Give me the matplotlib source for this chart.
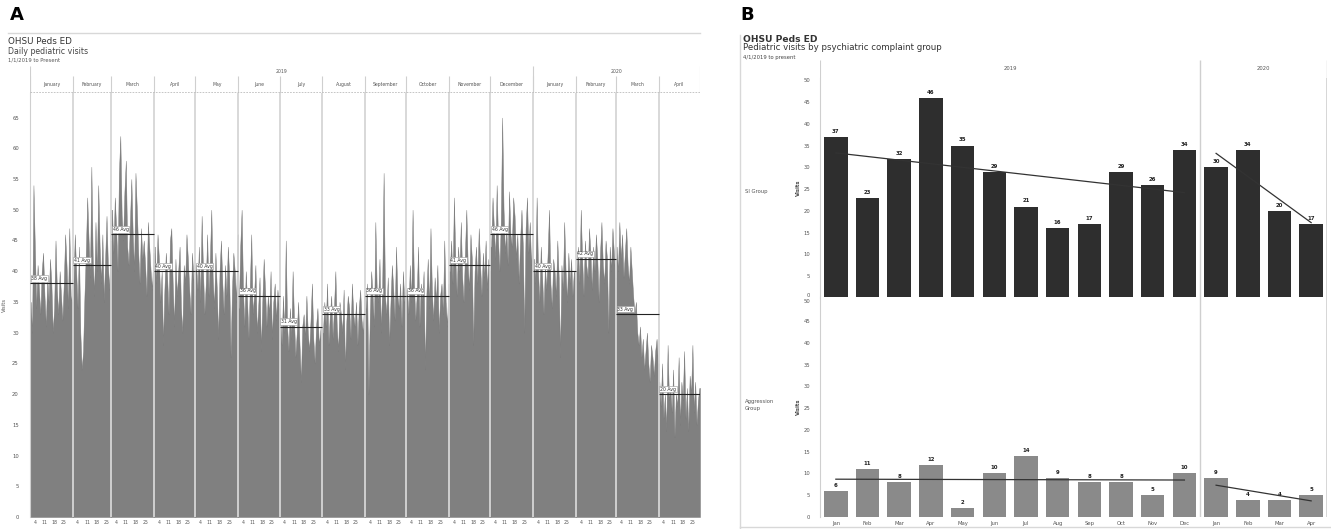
import numpy as np
import pandas as pd
import matplotlib
matplotlib.use("Agg")
import matplotlib.pyplot as plt

# ---- panel A : daily pediatric visits, 1/1/2019 - 4/30/2020 ----
jan19 = [35, 30, 54, 44, 34, 41, 37, 33, 40, 43, 36, 31, 39, 35, 42, 38, 30, 34, 45, 37, 33, 40, 36, 32, 38, 46, 41, 34, 47, 36, 35]
feb19 = [38, 46, 40, 34, 44, 30, 24, 27, 36, 43, 52, 45, 39, 57, 42, 36, 48, 40, 54, 44, 38, 46, 35, 42, 49, 41, 37, 45]
mar19 = [50, 43, 52, 47, 40, 56, 62, 49, 45, 53, 58, 44, 41, 48, 55, 46, 40, 56, 50, 43, 38, 47, 42, 45, 41, 36, 48, 44, 40, 37, 43]
apr19 = [44, 38, 46, 42, 35, 40, 28, 37, 43, 39, 33, 45, 47, 38, 31, 42, 36, 40, 44, 34, 30, 41, 38, 46, 42, 37, 33, 43, 39, 36]
may19 = [41, 37, 44, 35, 49, 40, 33, 38, 46, 36, 42, 50, 39, 34, 43, 37, 29, 40, 45, 38, 33, 41, 36, 44, 39, 26, 37, 43, 40, 35, 46]
jun19 = [34, 44, 50, 37, 31, 40, 35, 29, 38, 46, 33, 36, 41, 30, 34, 39, 27, 35, 42, 37, 31, 36, 33, 40, 29, 35, 38, 32, 37, 34]
jul19 = [33, 28, 36, 30, 45, 31, 27, 34, 29, 40, 32, 26, 30, 35, 28, 22, 31, 33, 29, 36, 30, 27, 32, 38, 29, 25, 31, 34, 28, 30, 33]
aug19 = [30, 35, 31, 38, 28, 33, 36, 29, 34, 40, 31, 27, 35, 33, 30, 37, 24, 32, 36, 34, 29, 38, 33, 31, 35, 28, 34, 37, 32, 30, 36]
sep19 = [34, 38, 20, 33, 40, 36, 31, 48, 37, 35, 42, 30, 38, 56, 36, 33, 39, 28, 35, 41, 37, 32, 44, 36, 34, 38, 31, 40, 35, 37]
oct19 = [37, 33, 41, 35, 50, 38, 32, 36, 44, 31, 38, 35, 40, 24, 36, 42, 34, 47, 37, 32, 39, 35, 41, 30, 36, 38, 33, 45, 35, 31, 38]
nov19 = [40, 45, 38, 52, 42, 36, 44, 40, 48, 39, 35, 43, 50, 41, 37, 46, 42, 28, 40, 44, 38, 47, 41, 36, 43, 39, 45, 37, 42, 40]
dec19 = [44, 52, 47, 42, 54, 45, 40, 48, 65, 50, 43, 47, 41, 53, 46, 44, 52, 49, 42, 46, 38, 45, 50, 44, 30, 47, 52, 43, 48, 41, 46]
jan20 = [42, 38, 52, 40, 35, 44, 39, 33, 41, 37, 43, 50, 38, 34, 42, 40, 36, 45, 39, 26, 41, 37, 48, 40, 35, 43, 38, 42, 36, 40, 39]
feb20 = [40, 44, 38, 50, 42, 36, 45, 41, 39, 47, 43, 37, 44, 40, 46, 42, 35, 43, 48, 41, 38, 45, 42, 30, 44, 40, 47, 43, 39]
mar20 = [44, 40, 48, 42, 46, 39, 43, 47, 41, 38, 44, 40, 36, 33, 35, 30, 28, 31, 26, 29, 24, 27, 30, 25, 22, 28, 26, 23, 27, 29, 25]
apr20 = [22, 18, 25, 16, 20, 14, 28, 19, 21, 17, 24, 13, 20, 18, 26, 15, 22, 19, 27, 16, 21, 14, 23, 20, 28, 17, 22, 15, 19, 21]
daily = [jan19, feb19, mar19, apr19, may19, jun19, jul19, aug19,
         sep19, oct19, nov19, dec19, jan20, feb20, mar20, apr20]

month_avg = [38, 41, 46, 40, 40, 36, 31, 33, 36, 36, 41, 46, 40, 42, 33, 20]
month_names = ["January", "February", "March", "April", "May", "June", "July",
               "August", "September", "October", "November", "December",
               "January", "February", "March", "April"]
day_ticks = [4, 11, 18, 25]

# ---- panel B : monthly visits by complaint group ----
b_months = ["Jan", "Feb", "Mar", "Apr", "May", "Jun", "Jul", "Aug", "Sep", "Oct", "Nov", "Dec",
            "Jan", "Feb", "Mar", "Apr"]
b_year = [2019] * 12 + [2020] * 4
si_group = [37, 23, 32, 46, 35, 29, 21, 16, 17, 29, 26, 34, 30, 34, 20, 17]
aggression_group = [6, 11, 8, 12, 2, 10, 14, 9, 8, 8, 5, 10, 9, 4, 4, 5]

W, H = 1331, 529
fig = plt.figure(figsize=(W / 100, H / 100), dpi=100)
plt.rcParams['font.family'] = ['DejaVu Sans']


def box(x0, y0, x1, y1):
    # pixel box (top-left origin) -> figure fraction rect
    return [x0 / W, 1 - y1 / H, (x1 - x0) / W, (y1 - y0) / H]


def ftext(x, y, s, **kw):
    fig.text(x / W, 1 - y / H, s, **kw)


grid_c = "#cfcfcf"
txt_c = "#555555"

# ================= panel A =================
ftext(10, 15, "A", fontsize=13, fontweight="bold", va="center")
fig.add_artist(plt.Line2D([8 / W, 700 / W], [1 - 33 / H] * 2, color="#d8d8d8", lw=1))
ftext(8, 42, "OHSU Peds ED", fontsize=6.3, va="center", color="#333333")
ftext(8, 52, "Daily pediatric visits", fontsize=5.6, va="center", color="#444444")
ftext(8, 60, "1/1/2019 to Present", fontsize=3.8, va="center", color="#555555")

lengths = [len(m) for m in daily]
starts = np.concatenate([[0], np.cumsum(lengths)[:-1]])
total = sum(lengths)

axA = fig.add_axes(box(30, 93, 700, 517))
for s, vals, avg in zip(starts, daily, month_avg):
    v = np.array(vals, dtype=float)
    xs = np.concatenate([[s], s + np.arange(len(v)) + 0.5, [s + len(v)]])
    ys = np.concatenate([[v[0]], v, [v[-1]]])
    axA.fill_between(xs, 0, ys, color="#808080", lw=0.3, edgecolor="#737373", zorder=2)
    axA.hlines(avg, s, s + len(v), color="#222222", lw=0.8, zorder=4)
    axA.text(s + 1, avg + 0.4, f"{avg} Avg", fontsize=3.3, color="#333333", va="bottom",
             zorder=5, bbox=dict(boxstyle="square,pad=0.15", fc="white", ec="#999999", lw=0.4))
for s in starts[1:]:
    axA.axvline(s, color="#d6d6d6", lw=1.3, zorder=3)
axA.set_xlim(0, total)
axA.set_ylim(0, 69)
axA.set_yticks(np.arange(0, 70, 5))
axA.tick_params(axis="y", length=0, labelsize=3.8, labelcolor=txt_c, pad=8)
tick_pos, tick_lab = [], []
for s in starts:
    for d in day_ticks:
        tick_pos.append(s + d - 0.5)
        tick_lab.append(str(d))
axA.set_xticks(tick_pos)
axA.set_xticklabels(tick_lab)
axA.tick_params(axis="x", length=0, labelsize=3.3, labelcolor=txt_c, pad=2)
axA.set_ylabel("Visits", fontsize=3.8, color=txt_c, labelpad=4)
for sp in ["top", "right", "bottom"]:
    axA.spines[sp].set_visible(False)
axA.spines["left"].set_color(grid_c)
axA.spines["left"].set_linewidth(0.8)

hA = fig.add_axes(box(30, 66, 700, 93))
hA.set_xlim(0, total)
hA.set_ylim(0, 1)
hA.axis("off")
for s, n, name in zip(starts, lengths, month_names):
    hA.text(s + n / 2, 0.3, name, fontsize=3.3, ha="center", va="center", color=txt_c)
    hA.vlines(s, 0, 0.62, color=grid_c, lw=0.8)
hA.vlines(total, 0, 1, color=grid_c, lw=0.8)
hA.vlines(starts[12], 0, 1, color=grid_c, lw=0.8)
hA.vlines(0, 0, 1, color=grid_c, lw=0.8)
hA.hlines(0.03, 0, total, color="#bbbbbb", lw=0.6, linestyles=(0, (2, 1.5)))
hA.text(starts[12] / 2, 0.8, "2019", fontsize=3.3, ha="center", va="center", color=txt_c)
hA.text((starts[12] + total) / 2, 0.8, "2020", fontsize=3.3, ha="center", va="center", color=txt_c)

# ================= panel B =================
ftext(740, 15, "B", fontsize=13, fontweight="bold", va="center")
ftext(743, 39, "OHSU Peds ED", fontsize=6.6, fontweight="bold", va="center", color="#333333")
ftext(743, 48, "Pediatric visits by psychiatric complaint group", fontsize=6.2, va="center", color="#333333")
ftext(743, 57, "4/1/2019 to present", fontsize=3.8, va="center", color="#444444")
fig.add_artist(plt.Line2D([740 / W] * 2, [1 - 35 / H, 1 - 529 / H], color="#d8d8d8", lw=1))
fig.add_artist(plt.Line2D([740 / W, 1331 / W], [1 - 527 / H] * 2, color="#d8d8d8", lw=1))

x = np.arange(len(b_months))
n19 = b_year.count(2019)
split = n19 - 0.5

axSI = fig.add_axes(box(820, 78, 1327, 298))
axAG = fig.add_axes(box(820, 297, 1327, 517))
for ax, vals, col in [(axSI, si_group, "#2e2e2e"), (axAG, aggression_group, "#8a8a8a")]:
    ax.bar(x, vals, width=0.74, color=col, zorder=2)
    for xi, v in zip(x, vals):
        ax.text(xi, v + 0.7, str(v), ha="center", va="bottom", fontsize=3.9,
                fontweight="bold", color="#222222")
    # linear trend per year pane
    for seg in [slice(0, n19), slice(n19, len(x))]:
        xs, ys = x[seg], np.array(vals[seg], dtype=float)
        k, b = np.polyfit(xs, ys, 1)
        ax.plot([xs[0], xs[-1]], [k * xs[0] + b, k * xs[-1] + b], color="#333333", lw=0.9, zorder=3)
    ax.set_xlim(-0.5, len(x) - 0.5)
    ax.set_ylim(0, 50.5)
    ax.set_yticks(np.arange(0, 51, 5))
    ax.tick_params(axis="y", length=0, labelsize=3.8, labelcolor=txt_c, pad=7)
    ax.axvline(split, color=grid_c, lw=1, zorder=1)
    ax.axvline(len(x) - 0.5, color=grid_c, lw=1.2)
    for sp in ["top", "right", "bottom"]:
        ax.spines[sp].set_visible(False)
    ax.spines["left"].set_color(grid_c)
    ax.spines["left"].set_linewidth(0.8)
    ax.set_ylabel("Visits", fontsize=3.8, fontweight="bold", color="#444444", labelpad=2)
# keep the pane-edge tick labels ("0" of SI, "50" of Aggression) apart
axSI.get_yticklabels()[0].set_va("bottom")
axAG.get_yticklabels()[-1].set_va("top")
axSI.set_xticks([])
axAG.set_xticks(x)
axAG.set_xticklabels(b_months)
axAG.tick_params(axis="x", length=0, labelsize=3.8, labelcolor=txt_c, pad=3)

ftext(745, 192, "SI Group", fontsize=3.8, va="center", color=txt_c)
ftext(745, 405, "Aggression\nGroup", fontsize=3.8, va="center", color=txt_c, linespacing=1.3)

hB = fig.add_axes(box(820, 60, 1327, 78))
hB.set_xlim(-0.5, len(x) - 0.5)
hB.set_ylim(0, 1)
hB.axis("off")
hB.vlines([split, len(x) - 0.5], 0, 1, color=grid_c, lw=1)
hB.vlines(-0.5, 0, 1, color=grid_c, lw=0.8)
hB.text((split - 0.5) / 2, 0.5, "2019", fontsize=3.8, ha="center", va="center", color=txt_c)
hB.text((split + len(x) - 0.5) / 2, 0.5, "2020", fontsize=3.8, ha="center", va="center", color=txt_c)

fig.savefig("out.png", dpi=100, facecolor="white")
